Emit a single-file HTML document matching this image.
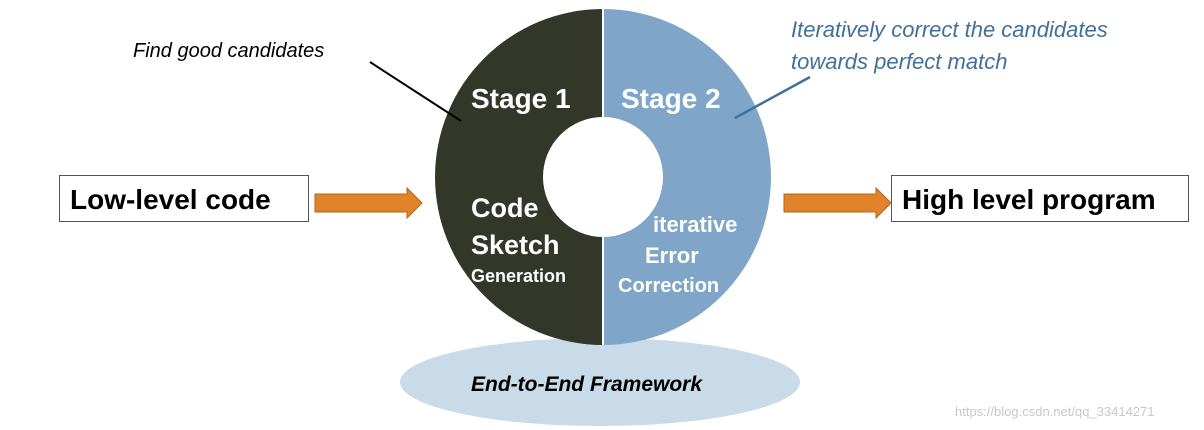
<!DOCTYPE html>
<html><head><meta charset="utf-8"><style>
html,body{margin:0;padding:0;background:#fff;}
svg{display:block;font-family:"Liberation Sans",Arial,sans-serif;}
</style></head><body>
<svg width="1204" height="430" viewBox="0 0 1204 430" xmlns="http://www.w3.org/2000/svg">
<ellipse cx="600" cy="382" rx="200" ry="44" fill="#c9dbe9"/>
<path d="M603,9 A168,168 0 0 0 603,345 Z" fill="#33372a"/>
<path d="M603,9 A168,168 0 0 1 603,345 Z" fill="#7fa6c8"/>
<line x1="603" y1="9" x2="603" y2="345" stroke="#fff" stroke-width="2"/>
<circle cx="603" cy="177" r="60" fill="#fff"/>
<g fill="#fff" font-weight="bold">
<text x="471" y="108" font-size="28">Stage 1</text>
<text x="621" y="108" font-size="28">Stage 2</text>
<text x="471" y="217" font-size="27">Code</text>
<text x="471" y="254" font-size="27">Sketch</text>
<text x="471" y="282" font-size="18">Generation</text>
<text x="653" y="232" font-size="22">iterative</text>
<text x="645" y="263" font-size="22">Error</text>
<text x="618" y="292" font-size="20">Correction</text>
</g>
<text x="471" y="391" font-size="21" font-weight="bold" font-style="italic" fill="#000">End-to-End Framework</text>
<rect x="59.5" y="175.5" width="249" height="46" fill="#fff" stroke="#555" stroke-width="1"/>
<text x="70" y="209" font-size="28" font-weight="bold">Low-level code</text>
<rect x="891.5" y="175.5" width="297" height="46" fill="#fff" stroke="#555" stroke-width="1"/>
<text x="902" y="209" font-size="28" font-weight="bold">High level program</text>
<path d="M315,194 H407 V188 L422,203 L407,218 V212 H315 Z" fill="#e0832a" stroke="#b5651d" stroke-width="1"/>
<path d="M784,194 H876 V188 L891,203 L876,218 V212 H784 Z" fill="#e0832a" stroke="#b5651d" stroke-width="1"/>
<text x="133" y="57" font-size="20" font-style="italic">Find good candidates</text>
<line x1="370" y1="62" x2="461" y2="121" stroke="#000" stroke-width="2"/>
<g fill="#41709a" font-size="22" font-style="italic">
<text x="791" y="37">Iteratively correct the candidates</text>
<text x="791" y="69">towards perfect match</text>
</g>
<line x1="810" y1="77" x2="735" y2="118" stroke="#41709a" stroke-width="2.5"/>
<text x="955" y="416" font-size="13" fill="#c8c8c8">https://blog.csdn.net/qq_33414271</text>
</svg>
</body></html>
